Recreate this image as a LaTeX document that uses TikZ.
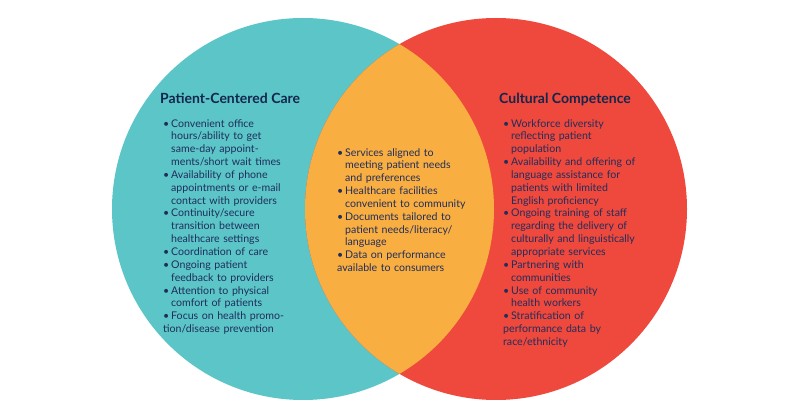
\documentclass[tikz,border=0pt]{standalone}
\usepackage{fontspec}
\setmainfont{Lato}
\usetikzlibrary{positioning}
\definecolor{pcteal}{RGB}{91,197,199}
\definecolor{ccred}{RGB}{239,72,60}
\definecolor{bothorange}{RGB}{249,174,65}
\definecolor{inknavy}{RGB}{32,46,92}
\definecolor{headnavy}{RGB}{18,38,78}
\newcommand{\itm}[1]{\par\hangindent=8pt\hangafter=1\noindent\hbox to 8pt{\textbullet\hss}#1}

\begin{document}
\begin{tikzpicture}[
  x=1pt, y=1pt,
  head/.style={anchor=base west, inner sep=0pt, text=headnavy,
    font=\fontsize{14}{16}\selectfont\bfseries},
  list/.style={anchor=north west, inner sep=0pt, text=inknavy, align=left,
    font=\fontsize{10.6}{12.85}\selectfont}
]
\useasboundingbox (0,0) rectangle (795,420);
% ---- circles ----------------------------------------------------------------
\coordinate (pcc) at (303,211);
\coordinate (cc) at (496,211);
\fill[pcteal] (pcc) circle (191pt);
\fill[ccred] (cc) circle (191pt);
\begin{scope}
  \clip (pcc) circle (191pt);
  \fill[bothorange] (cc) circle (191pt);
\end{scope}

% ---- titles -----------------------------------------------------------------
\node[head] (pcchead) at (160,316) {Patient-Centered Care};
\node[head] (cchead) at (499,316) {Cultural Competence};

% ---- lists ------------------------------------------------------------------
\node[list, text width=140pt] (pcclist) at (163,306) {%
  \itm{Convenient office\newline hours/ability to get\newline same-day appoint-\newline ments/short wait times}
  \itm{Availability of phone\newline appointments or e-mail\newline contact with providers}
  \itm{Continuity/secure\newline transition between\newline healthcare settings}
  \itm{Coordination of care}
  \itm{Ongoing patient\newline feedback to providers}
  \itm{Attention to physical\newline comfort of patients}
  \itm{Focus on health promo-\newline tion/disease prevention}};
\node[list, text width=140pt] (bothlist) at (337,277) {%
  \itm{Services aligned to\newline meeting patient needs\newline and preferences}
  \itm{Healthcare facilities\newline convenient to community}
  \itm{Documents tailored to\newline patient needs/literacy/\newline language}
  \itm{Data on performance\newline available to consumers}};
\node[list, text width=140pt] (cclist) at (503,306) {%
  \itm{Workforce diversity\newline reflecting patient\newline population}
  \itm{Availability and offering of\newline language assistance for\newline patients with limited\newline English proficiency}
  \itm{Ongoing training of staff\newline regarding the delivery of\newline culturally and linguistically\newline appropriate services}
  \itm{Partnering with\newline communities}
  \itm{Use of community\newline health workers}
  \itm{Stratification of\newline performance data by\newline race/ethnicity}};
\end{tikzpicture}
\end{document}
